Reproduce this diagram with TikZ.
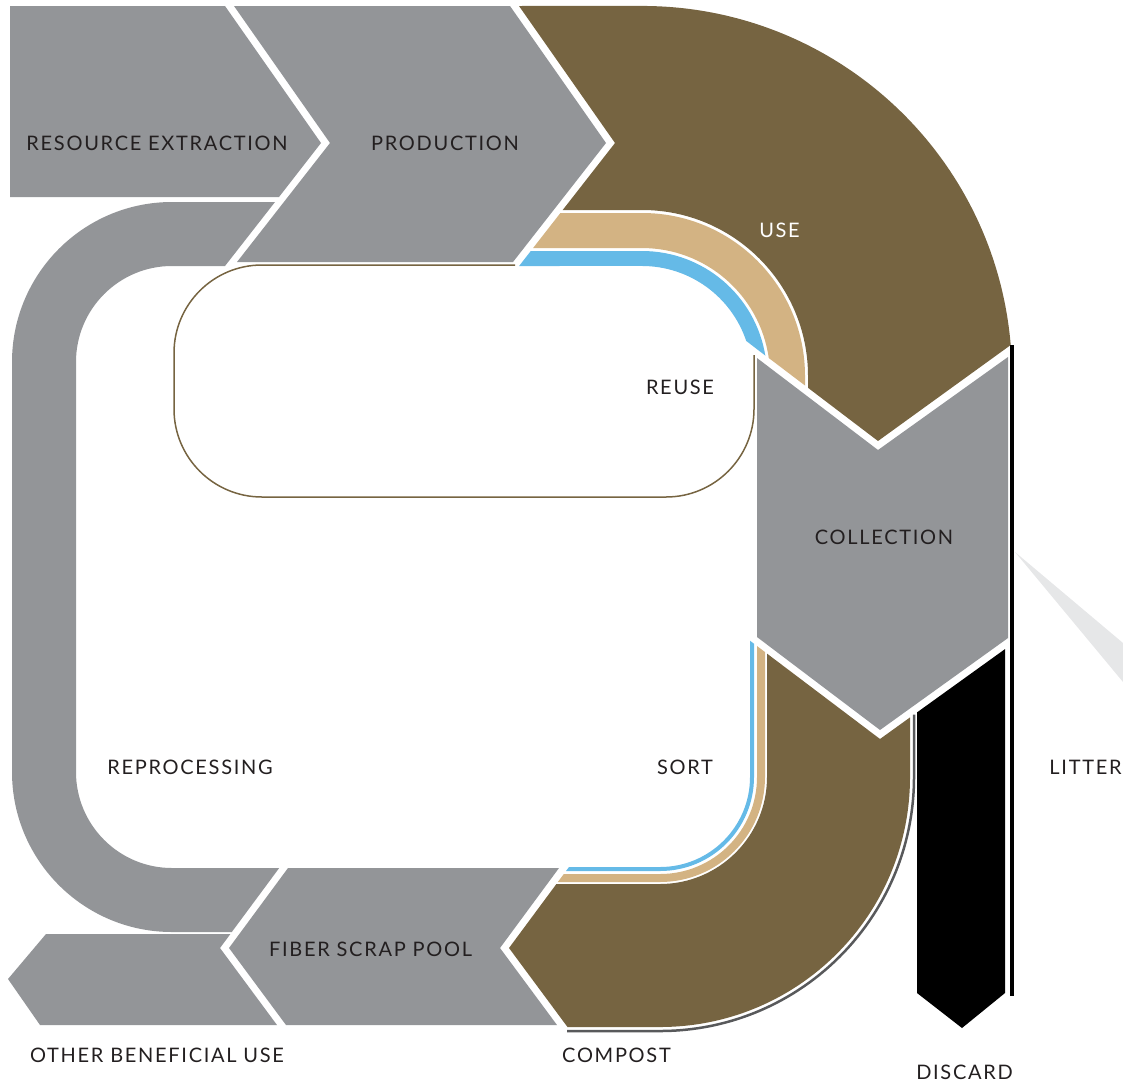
\documentclass[tikz,border=0pt]{standalone}
\usepackage{fontspec}
\newfontfamily\labelfont{Lato}[LetterSpace=8.5]

\definecolor{stageGray}{HTML}{939598}
\definecolor{useBrown}{HTML}{766441}
\definecolor{reuseTan}{HTML}{D3B383}
\definecolor{sortBlue}{HTML}{65BAE7}
\definecolor{litterGray}{HTML}{E6E7E8}
\definecolor{rimGray}{HTML}{58595B}
\definecolor{ink}{HTML}{231F20}

\begin{document}
\begin{tikzpicture}[
    x=1pt, y=-1pt,
    every node/.style={font=\labelfont\fontsize{20}{20}\selectfont},
    lbl/.style={text=ink, inner sep=0pt},
    stage/.style={fill=stageGray},
    flow/.style={fill=useBrown},
    tanband/.style={fill=reuseTan},
    blueband/.style={fill=sortBlue},
    reuseline/.style={draw=useBrown, line width=1.5pt},
    rim/.style={draw=rimGray, line width=2.5pt},
]

\useasboundingbox (0,0) rectangle (1123,1087);

% ── Reuse loop outline ───────────────────────────────────────────────────────
\draw[reuseline] (515,265) -- (262,265) arc[start angle=-90, end angle=-180, radius=88]
    -- (174,409) arc[start angle=180, end angle=90, radius=88]
    -- (666,497) arc[start angle=90, end angle=0, radius=88] -- (754,355);

% ── Reprocessing loop (left) ─────────────────────────────────────────────────
\fill[stage] (275,202) -- (172,202) arc[start angle=-90, end angle=-180, radius=160]
    -- (12,772) arc[start angle=180, end angle=90, radius=160]
    -- (231.8,932) -- (279.2,868)
    -- (172,868) arc[start angle=90, end angle=180, radius=96]
    -- (76,362) arc[start angle=180, end angle=270, radius=96]
    -- (225,266) -- cycle;

% ── Top chevrons ─────────────────────────────────────────────────────────────
\fill[stage] (10,6) -- (225,6) -- (321,143) -- (279,197) -- (10,197) -- cycle;
\fill[stage] (234,6) -- (510,6) -- (606,143) -- (513,262) -- (237,262) -- (330,143) -- cycle;

% ── Use band (upper right) ───────────────────────────────────────────────────
\fill[flow] (519,6) -- (615,143) -- (562.7,210) -- (642,210)
    arc[start angle=-90, end angle=0, radius=166] -- (808,387.8)
    -- (878,441) -- (1010.7,345)
    arc[start angle=-4.8, end angle=-90, radius=370] -- cycle;
\fill[tanband] (560.4,213) -- (642,213) arc[start angle=-90, end angle=0, radius=163]
    -- (805,385.5) -- (768.75,358)
    arc[start angle=-8.1, end angle=-90, radius=128] -- (533.1,248) -- cycle;
\fill[blueband] (530.8,251) -- (642,251) arc[start angle=-90, end angle=-9.4, radius=125]
    -- (746.2,340.9)
    arc[start angle=-18.6, end angle=-90, radius=110] -- (519.1,266) -- cycle;

% ── Collection ───────────────────────────────────────────────────────────────
\fill[stage] (757,358) -- (878,450) -- (1008,357) -- (1008,638) -- (880,730) -- (757,637) -- cycle;

% ── Compost band (lower right) ───────────────────────────────────────────────
\fill[flow] (767,653.6) -- (880,739) -- (910,717.4) -- (910,777)
    arc[start angle=0, end angle=90, radius=250] -- (567.5,1027) -- (509,948)
    -- (556.4,884) -- (660,884) arc[start angle=90, end angle=0, radius=107] -- cycle;
\fill[tanband] (557.8,882) -- (660,882) arc[start angle=90, end angle=0, radius=105]
    -- (765,652) -- (757,646) -- (757,777)
    arc[start angle=0, end angle=90, radius=97] -- (563.8,874) -- cycle;
\fill[blueband] (566,871) -- (660,871) arc[start angle=90, end angle=0, radius=94]
    -- (754,643.7) -- (750,640.7) -- (750,777)
    arc[start angle=0, end angle=90, radius=90] -- (569,867) -- cycle;
\draw[rim] (914,714.6) -- (914,777) arc[start angle=0, end angle=90, radius=254] -- (567,1031);

% ── Bottom chevrons ──────────────────────────────────────────────────────────
\fill[stage] (288,868) -- (559,868) -- (500,948) -- (557,1025) -- (286,1025) -- (229,948) -- cycle;
\fill[stage] (46,934) -- (230.4,934) -- (220,948) -- (277,1025) -- (40,1025) -- (8,979) -- cycle;

% ── Discard and litter ───────────────────────────────────────────────────────
\fill[black] (917,712.4) -- (1005,649.1) -- (1005,993) -- (962,1028) -- (917,993) -- cycle;
\draw[black, line width=3.5pt] (1012,345) -- (1012,996);
\fill[litterGray] (1015,552) -- (1123,643) -- (1123,682) -- cycle;

% ── Labels ───────────────────────────────────────────────────────────────────
\node[lbl] (resource)     at (157,143)    {RESOURCE EXTRACTION};
\node[lbl] (production)   at (445,143)    {PRODUCTION};
\node[lbl, text=white] (use) at (779.5,230) {USE};
\node[lbl] (reuse)        at (680,387)    {REUSE};
\node[lbl] (collection)   at (884,537)    {COLLECTION};
\node[lbl] (reprocessing) at (190,767)    {REPROCESSING};
\node[lbl] (sort)         at (685,767)    {SORT};
\node[lbl] (litter)       at (1085.5,767) {LITTER};
\node[lbl] (fiberpool)    at (370.5,949)  {FIBER SCRAP POOL};
\node[lbl] (otheruse)     at (157,1055)   {OTHER BENEFICIAL USE};
\node[lbl] (compost)      at (616.5,1055) {COMPOST};
\node[lbl] (discard)      at (964.5,1072) {DISCARD};

\end{tikzpicture}
\end{document}
